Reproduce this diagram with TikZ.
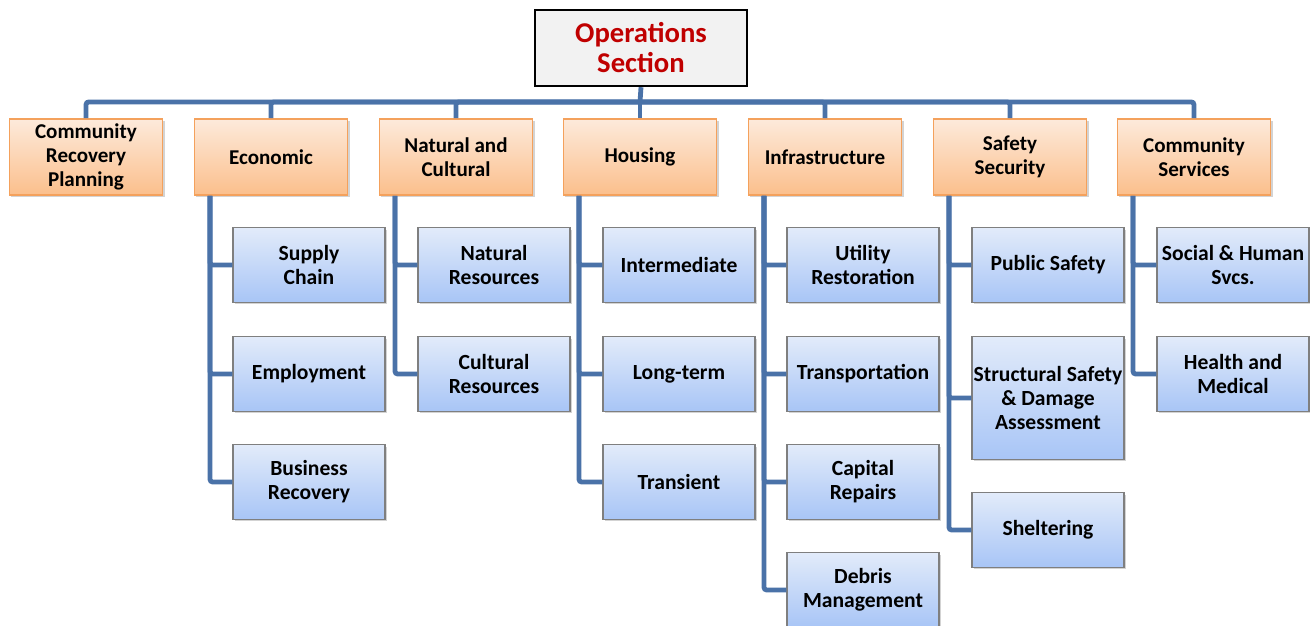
\documentclass[tikz,border=0pt]{standalone}
\usepackage{fontspec}
\setmainfont{Carlito}
\usetikzlibrary{shadows}

\definecolor{linkblue}{HTML}{4A72A8}
\definecolor{opsred}{HTML}{C00000}
\definecolor{topgray}{HTML}{F2F2F2}
\definecolor{orangeedge}{HTML}{F4A15C}
\definecolor{orangetop}{HTML}{FDEADB}
\definecolor{orangebot}{HTML}{FBBF8C}
\definecolor{blueedge}{HTML}{7F7F7F}
\definecolor{bluetop}{HTML}{E2EBFA}
\definecolor{bluebot}{HTML}{A8C5F6}

\tikzset{
  topbox/.style={rectangle, draw=black, line width=1.8pt, fill=topgray,
    minimum width=159pt, minimum height=57pt, align=center,
    font=\fontsize{21.5}{22.5}\selectfont\bfseries, text=opsred},
  orangebox/.style={rectangle, draw=orangeedge, line width=1.2pt,
    top color=orangetop, bottom color=orangebot,
    minimum width=115pt, minimum height=57pt, align=center,
    font=\fontsize{15.8}{18}\selectfont\bfseries,
    drop shadow={opacity=0.35, shadow xshift=1.5pt, shadow yshift=-1.5pt}},
  bluebox/.style={rectangle, draw=blueedge, line width=0.8pt,
    top color=bluetop, bottom color=bluebot, inner xsep=0.5pt,
    minimum width=114pt, minimum height=56pt, align=center,
    font=\fontsize{16.2}{18}\selectfont\bfseries,
    drop shadow={opacity=0.35, shadow xshift=1.5pt, shadow yshift=-1.5pt}},
  conn/.style={draw=linkblue, line width=3.6pt, rounded corners=2pt}
}

\begin{document}
\begin{tikzpicture}[x=0.75pt, y=-0.75pt]
  \useasboundingbox (0,0) rectangle (1310,625);
  % Bus
  \coordinate (bus) at (640,102);
  \coordinate (busL) at (86,102);
  \coordinate (busR) at (1194,102);
  \draw[conn] (busL) -- (busR);
  % Nodes
  \node (ops) [topbox] at (641,48) {Operations\\Section};
  \node (crp) [orangebox] at (86,157) {Community\\Recovery\\Planning};
  \node (eco) [orangebox] at (271,157) {Economic};
  \node (nat) [orangebox] at (456,157) {Natural and\\Cultural};
  \node (hou) [orangebox] at (640,157) {Housing};
  \node (inf) [orangebox] at (825,157) {Infrastructure};
  \node (saf) [orangebox] at (1010,157) {Safety\\Security};
  \node (com) [orangebox] at (1194,157) {Community\\Services};
  % Economic
  \node (supply) [bluebox] at (309,265) {Supply\\Chain};
  \node (employ) [bluebox] at (309,374) {Employment};
  \node (business) [bluebox] at (309,482) {Business\\Recovery};
  % Natural and Cultural
  \node (natres) [bluebox] at (494,265) {Natural\\Resources};
  \node (culres) [bluebox] at (494,374) {Cultural\\Resources};
  % Housing
  \node (inter) [bluebox] at (679,265) {Intermediate};
  \node (longterm) [bluebox] at (679,374) {Long-term};
  \node (transient) [bluebox] at (679,482) {Transient};
  % Infrastructure
  \node (utility) [bluebox] at (863,265) {Utility\\Restoration};
  \node (transport) [bluebox] at (863,374) {Transportation};
  \node (capital) [bluebox] at (863,482) {Capital\\Repairs};
  \node (debris) [bluebox] at (863,590) {Debris\\Management};
  % Safety Security
  \node (pubsafe) [bluebox] at (1048,265) {Public Safety};
  \node (struct) [bluebox, minimum height=92pt] at (1048,398) {Structural Safety\\\& Damage\\Assessment};
  \node (shelter) [bluebox] at (1048,530) {Sheltering};
  % Community Services
  \node (social) [bluebox] at (1233,265) {Social \& Human\\Svcs.};
  \node (health) [bluebox] at (1233,374) {Health and\\Medical};
  % Bus to sections
  \draw[conn] (ops.south) -- (bus);
  \foreach \sec in {crp,eco,nat,hou,inf,saf,com}
    \draw[conn] (bus) -| (\sec.north);
  % Branches
  \draw[conn] ([xshift=-45.75pt]eco.south) |- (supply.west);
  \draw[conn] ([xshift=-45.75pt]eco.south) |- (employ.west);
  \draw[conn] ([xshift=-45.75pt]eco.south) |- (business.west);
  \draw[conn] ([xshift=-45.75pt]nat.south) |- (natres.west);
  \draw[conn] ([xshift=-45.75pt]nat.south) |- (culres.west);
  \draw[conn] ([xshift=-45.75pt]hou.south) |- (inter.west);
  \draw[conn] ([xshift=-45.75pt]hou.south) |- (longterm.west);
  \draw[conn] ([xshift=-45.75pt]hou.south) |- (transient.west);
  \draw[conn] ([xshift=-45.75pt]inf.south) |- (utility.west);
  \draw[conn] ([xshift=-45.75pt]inf.south) |- (transport.west);
  \draw[conn] ([xshift=-45.75pt]inf.south) |- (capital.west);
  \draw[conn] ([xshift=-45.75pt]inf.south) |- (debris.west);
  \draw[conn] ([xshift=-45.75pt]saf.south) |- (pubsafe.west);
  \draw[conn] ([xshift=-45.75pt]saf.south) |- (struct.west);
  \draw[conn] ([xshift=-45.75pt]saf.south) |- (shelter.west);
  \draw[conn] ([xshift=-45.75pt]com.south) |- (social.west);
  \draw[conn] ([xshift=-45.75pt]com.south) |- (health.west);
\end{tikzpicture}
\end{document}
